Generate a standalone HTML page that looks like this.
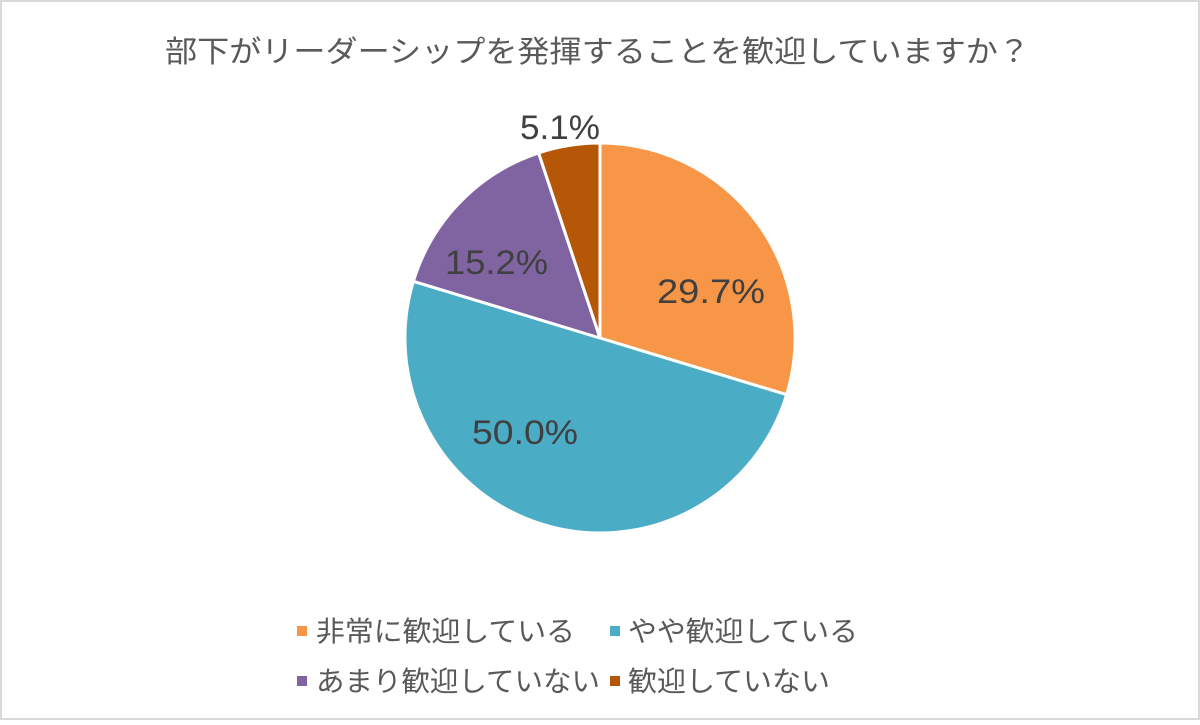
<!DOCTYPE html>
<html><head><meta charset="utf-8"><style>
html,body{margin:0;padding:0;background:#fff;}
body{width:1200px;height:720px;overflow:hidden;}
svg text{font-family:"Liberation Sans","Noto Sans CJK JP",sans-serif;}
</style></head><body>
<svg width="1200" height="720" viewBox="0 0 1200 720" xmlns="http://www.w3.org/2000/svg">
<rect x="1" y="1" width="1198" height="718" fill="#fff" stroke="#d9d9d9" stroke-width="2"/>
<text x="165" y="62" font-size="30" fill="#595959" textLength="865" lengthAdjust="spacingAndGlyphs">部下がリーダーシップを発揮することを歓迎していますか？</text>
<g stroke="#fff" stroke-width="3" stroke-linejoin="round">
<path d="M600,338 L600,143 A195,195 0 0 1 786.6,394.7 Z" fill="#F79646"/>
<path d="M600,338 L786.6,394.7 A195,195 0 0 1 413.4,281.3 Z" fill="#4BACC6"/>
<path d="M600,338 L413.4,281.3 A195,195 0 0 1 538.6,152.9 Z" fill="#8064A2"/>
<path d="M600,338 L538.6,152.9 A195,195 0 0 1 600,143 Z" fill="#B65708"/>
</g>
<g font-size="34" fill="#404040">
<text x="657" y="303" textLength="108" lengthAdjust="spacingAndGlyphs">29.7%</text>
<text x="472" y="444" textLength="106" lengthAdjust="spacingAndGlyphs">50.0%</text>
<text x="445" y="274" textLength="103" lengthAdjust="spacingAndGlyphs">15.2%</text>
<text x="520" y="139" textLength="80" lengthAdjust="spacingAndGlyphs">5.1%</text>
</g>
<g font-size="28" fill="#595959">
<rect x="297" y="626" width="10" height="10" fill="#F79646"/>
<text x="316" y="641" textLength="259" lengthAdjust="spacingAndGlyphs">非常に歓迎している</text>
<rect x="610" y="626" width="10" height="10" fill="#4BACC6"/>
<text x="628" y="641" textLength="230" lengthAdjust="spacingAndGlyphs">やや歓迎している</text>
<rect x="297" y="676" width="10" height="10" fill="#8064A2"/>
<text x="316" y="691" textLength="284" lengthAdjust="spacingAndGlyphs">あまり歓迎していない</text>
<rect x="610" y="676" width="10" height="10" fill="#B65708"/>
<text x="628" y="691" textLength="202" lengthAdjust="spacingAndGlyphs">歓迎していない</text>
</g>
</svg>
</body></html>
